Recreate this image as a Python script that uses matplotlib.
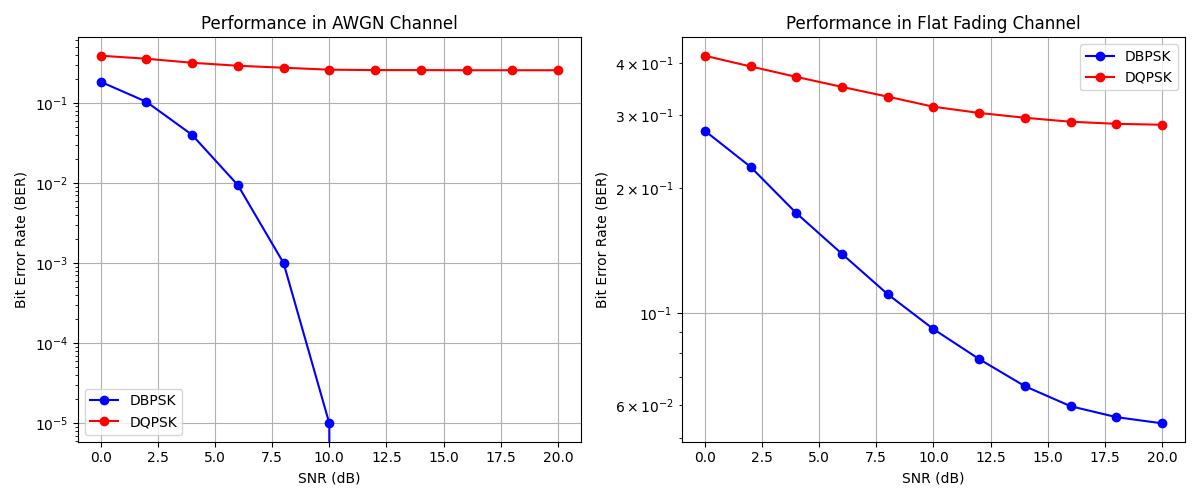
import matplotlib
matplotlib.use('Agg')
import matplotlib.pyplot as plt
import numpy as np

snr_db = [0, 2, 4, 6, 8, 10, 12, 14, 16, 18, 20]

# AWGN channel (zeros after 10 dB are not drawn on log scale)
awgn_dbpsk = [0.183, 0.103, 0.0398, 0.0094, 0.001, 1e-5, 0, 0, 0, 0, 0]
awgn_dqpsk = [0.387, 0.355, 0.316, 0.29, 0.274, 0.259, 0.256, 0.256, 0.255, 0.255, 0.255]

# flat fading channel
fad_dbpsk = [0.2745, 0.2248, 0.174, 0.1388, 0.111, 0.0915, 0.0775, 0.0667, 0.0597, 0.0562, 0.0543]
fad_dqpsk = [0.416, 0.392, 0.370, 0.350, 0.3316, 0.3136, 0.303, 0.295, 0.2886, 0.2853, 0.2838]

plt.figure(figsize=(12, 5))

plt.subplot(1, 2, 1)
plt.semilogy(snr_db, awgn_dbpsk, 'bo-', label='DBPSK')
plt.semilogy(snr_db, awgn_dqpsk, 'ro-', label='DQPSK')
plt.title('Performance in AWGN Channel')
plt.xlabel('SNR (dB)')
plt.ylabel('Bit Error Rate (BER)')
plt.grid(True)
plt.legend()

plt.subplot(1, 2, 2)
plt.semilogy(snr_db, fad_dbpsk, 'bo-', label='DBPSK')
plt.semilogy(snr_db, fad_dqpsk, 'ro-', label='DQPSK')
plt.title('Performance in Flat Fading Channel')
plt.xlabel('SNR (dB)')
plt.ylabel('Bit Error Rate (BER)')
plt.grid(True)
plt.legend()

plt.tight_layout()
plt.savefig('out.png', dpi=100)
